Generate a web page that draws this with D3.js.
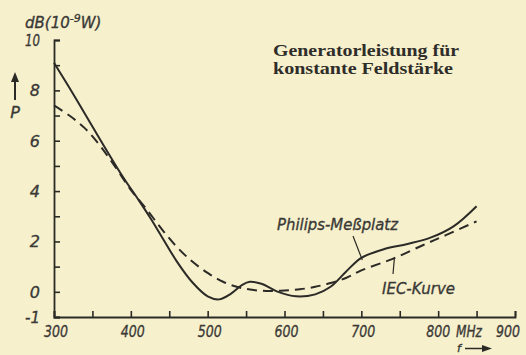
<!DOCTYPE html>
<html>
<head>
<meta charset="utf-8">
<script src="https://cdn.jsdelivr.net/npm/d3@7"></script>
<style>
  html, body { margin: 0; padding: 0; background: #f7f0cc; }
  svg { display: block; }
  .lbl { font-family: "DejaVu Sans", "Liberation Sans", sans-serif; font-style: italic; fill: #3a3936; stroke: #3a3936; stroke-width: 0.35px; }
  .title { font-family: "Liberation Serif", "DejaVu Serif", serif; font-weight: bold; fill: #2e2d2a; }
</style>
</head>
<body>
<div id="chart"></div>
<script>
// Frequency (MHz) and generator power (dB re 10^-9 W)
const philipsFreq = [300, 330, 360, 390, 410, 425, 440, 460, 480, 500, 515, 530, 545, 555, 570, 590, 615, 640, 660, 680, 700, 730, 760, 790, 820, 850];
const philipsPower = [9.1, 7.6, 6.05, 4.55, 3.65, 2.95, 2.2, 1.2, 0.38, -0.18, -0.3, -0.08, 0.28, 0.4, 0.32, 0.02, -0.18, -0.1, 0.2, 0.8, 1.35, 1.7, 1.9, 2.15, 2.6, 3.4];

const iecFreq = [300, 320, 340, 360, 380, 400, 420, 440, 460, 480, 500, 520, 540, 560, 580, 600, 620, 640, 660, 680, 700, 740, 780, 810, 850];
const iecPower = [7.4, 7.0, 6.5, 5.8, 4.95, 4.05, 3.3, 2.5, 1.78, 1.2, 0.75, 0.4, 0.18, 0.07, 0.03, 0.05, 0.1, 0.2, 0.35, 0.55, 0.85, 1.3, 1.85, 2.25, 2.8];

const xTickValues = d3.range(300, 901, 50);
const xTickLabels = ["300", "400", "500", "600", "700", "800", "900"];
const yTickValues = d3.range(-1, 11, 1);
const yTickLabels = ["-1", "0", "2", "4", "6", "8", "10"];

const W = 526, H = 355;
const ink = "#2b2a27";

const svg = d3.select("#chart").append("svg")
  .attr("width", W).attr("height", H);

const x = d3.scaleLinear().domain([300, 900]).range([54, 515]);
const y = d3.scaleLinear().domain([-1, 10]).range([317, 40]);

// Axes: ticks point into the plot area
const xAxis = d3.axisTop(x).tickValues(xTickValues).tickSize(6).tickFormat("");
const gx = svg.append("g").attr("transform", `translate(0,${y(-1)})`).call(xAxis);
const yAxis = d3.axisRight(y).tickValues(yTickValues).tickSize(6).tickFormat("");
const gy = svg.append("g").attr("transform", `translate(${x(300)},0)`).call(yAxis);
[gx, gy].forEach(g => {
  g.select(".domain").attr("stroke", ink).attr("stroke-width", 1.8);
  g.selectAll(".tick line").attr("stroke", ink).attr("stroke-width", 1.6);
});

// Tick labels (condensed via textLength)
svg.append("g").selectAll("text").data(xTickLabels).join("text")
  .attr("class", "lbl")
  .attr("x", d => x(+d) + (d === "900" ? -7 : d === "800" ? 0 : 2))
  .attr("y", 337)
  .attr("text-anchor", "middle")
  .attr("font-size", 16)
  .attr("textLength", 24)
  .attr("lengthAdjust", "spacingAndGlyphs")
  .text(d => d);

svg.append("g").selectAll("text").data(yTickLabels).join("text")
  .attr("class", "lbl")
  .attr("x", 40)
  .attr("y", d => y(+d) + 6)
  .attr("text-anchor", "end")
  .attr("font-size", 16)
  .each(function (d) {
    if (d.length > 1) d3.select(this).attr("textLength", 15).attr("lengthAdjust", "spacingAndGlyphs");
  })
  .text(d => d);

// Unit labels
svg.append("text").attr("class", "lbl").attr("x", 456).attr("y", 337)
  .attr("font-size", 15).attr("textLength", 26).attr("lengthAdjust", "spacingAndGlyphs").text("MHz");
const unit = svg.append("text").attr("class", "lbl").attr("x", 25).attr("y", 28)
  .attr("font-size", 15);
unit.append("tspan").text("dB(10");
unit.append("tspan").attr("dy", -6).attr("font-size", 11).text("-9");
unit.append("tspan").attr("dy", 6).text("W)");

// Axis symbols with arrows
svg.append("text").attr("class", "lbl").attr("x", 459).attr("y", 351.5)
  .attr("text-anchor", "middle").attr("font-size", 11).text("f");
svg.append("line").attr("x1", 465).attr("x2", 484).attr("y1", 348.5).attr("y2", 348.5)
  .attr("stroke", ink).attr("stroke-width", 1.5);
svg.append("path").attr("d", "M482,345 L492,348.5 L482,352 Z").attr("fill", ink);

svg.append("text").attr("class", "lbl").attr("x", 15).attr("y", 118)
  .attr("text-anchor", "middle").attr("font-size", 16).text("P");
svg.append("line").attr("x1", 15).attr("x2", 15).attr("y1", 100).attr("y2", 80)
  .attr("stroke", ink).attr("stroke-width", 2);
svg.append("path").attr("d", "M11,82 L15,72 L19,82 Z").attr("fill", ink);

// Title
svg.append("text").attr("class", "title").attr("x", 273).attr("y", 56)
  .attr("font-size", 16).attr("textLength", 186).attr("lengthAdjust", "spacingAndGlyphs")
  .text("Generatorleistung für");
svg.append("text").attr("class", "title").attr("x", 273).attr("y", 74)
  .attr("font-size", 16).attr("textLength", 180).attr("lengthAdjust", "spacingAndGlyphs")
  .text("konstante  Feldstärke");

// Curves
const line = d3.line()
  .x(d => x(d[0]))
  .y(d => y(d[1]))
  .curve(d3.curveCatmullRom.alpha(0.5));

const iecData = iecFreq.map((f, i) => [f, iecPower[i]]);
const philipsData = philipsFreq.map((f, i) => [f, philipsPower[i]]);

svg.append("path").datum(iecData)
  .attr("d", line).attr("fill", "none")
  .attr("stroke", ink).attr("stroke-width", 2)
  .attr("stroke-dasharray", "10,6");

svg.append("path").datum(philipsData)
  .attr("d", line).attr("fill", "none")
  .attr("stroke", ink).attr("stroke-width", 2);

// Curve labels with leader lines
svg.append("text").attr("class", "lbl").attr("x", 277).attr("y", 230)
  .attr("font-size", 16).attr("textLength", 121).attr("lengthAdjust", "spacingAndGlyphs")
  .text("Philips-Meßplatz");
svg.append("line")
  .attr("x1", 353).attr("y1", 236).attr("x2", x(700) + 1).attr("y2", y(1.3) + 1)
  .attr("stroke", ink).attr("stroke-width", 1.2);

svg.append("text").attr("class", "lbl").attr("x", 382).attr("y", 294)
  .attr("font-size", 16).attr("textLength", 73).attr("lengthAdjust", "spacingAndGlyphs")
  .text("IEC-Kurve");
svg.append("line")
  .attr("x1", 393).attr("y1", 274).attr("x2", x(743)).attr("y2", y(1.33))
  .attr("stroke", ink).attr("stroke-width", 1.2);
</script>
</body>
</html>
